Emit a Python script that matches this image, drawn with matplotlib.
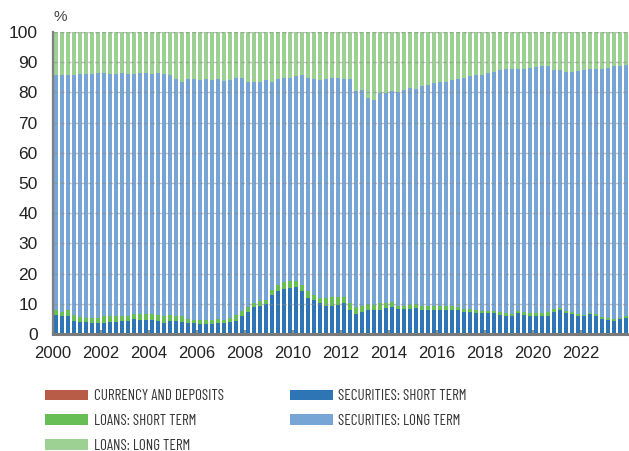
import matplotlib
matplotlib.use("Agg")
import matplotlib.pyplot as plt
from matplotlib.patches import Patch
import numpy as np

# Quarterly data 2000Q1 .. 2023Q4 (percent of total)
quarters = [2000 + q * 0.25 for q in range(96)]

currency = [0.4] * 49 + [0.1] * 47

sec_short = [6.0, 5.4, 5.4, 4.0, 3.7, 3.7, 3.4, 3.4, 3.4, 3.7, 3.7, 4.0,
             4.0, 4.6, 4.4, 4.4, 4.4, 4.0, 3.4, 4.0, 4.0, 3.7, 3.2, 3.1,
             2.8, 3.0, 3.0, 3.4, 3.1, 3.7, 4.0, 5.7, 7.0, 8.4, 8.8, 9.5,
             12.4, 13.7, 14.4, 14.8, 15.3, 13.7, 11.6, 10.9, 9.9, 9.0, 9.0, 9.1,
             9.9, 8.0, 6.5, 7.3, 7.7, 7.7, 8.0, 8.6, 9.0, 8.3, 8.3, 8.3,
             8.5, 7.8, 7.8, 8.0, 8.0, 8.0, 7.9, 7.7, 7.3, 7.2, 7.0, 6.7,
             6.7, 6.7, 6.3, 6.0, 5.8, 6.7, 6.3, 6.0, 6.0, 6.0, 6.0, 7.1,
             7.7, 7.0, 6.5, 5.8, 5.7, 6.5, 6.0, 5.0, 4.7, 4.3, 4.8, 5.3]

loans_short = [1.7, 1.5, 2.0, 1.9, 1.5, 1.3, 1.5, 1.6, 2.0, 1.8, 1.8, 1.6,
               1.7, 1.7, 1.8, 1.8, 1.8, 1.9, 2.1, 1.8, 1.7, 1.8, 1.4, 1.3,
               1.3, 1.2, 1.1, 1.2, 1.2, 1.3, 1.8, 1.5, 1.4, 1.6, 1.6, 1.5,
               1.8, 2.0, 2.4, 2.2, 1.7, 2.2, 2.3, 1.7, 1.7, 2.5, 2.7, 2.7,
               2.1, 2.3, 2.5, 2.0, 2.0, 1.9, 2.0, 1.6, 1.5, 1.0, 1.0, 1.2,
               1.2, 1.3, 1.3, 1.2, 1.2, 1.2, 1.2, 1.0, 1.0, 0.9, 1.0, 0.8,
               0.9, 0.9, 0.8, 0.8, 0.8, 0.8, 0.8, 1.0, 0.7, 0.9, 1.1, 1.2,
               0.8, 0.6, 0.6, 0.7, 0.5, 0.2, 0.5, 0.6, 0.4, 0.5, 0.4, 0.5]

sec_long = [77.5, 78.5, 77.8, 79.5, 80.6, 80.6, 80.7, 81.1, 80.7, 80.3, 80.3, 80.5,
            80.1, 79.5, 79.9, 79.9, 79.6, 80.2, 80.3, 79.6, 78.4, 77.6, 79.5, 79.7,
            79.7, 79.9, 79.7, 79.5, 79.1, 78.8, 78.6, 77.2, 74.7, 72.9, 72.7, 72.6,
            68.9, 68.4, 67.7, 67.5, 67.9, 69.3, 70.6, 71.6, 72.0, 72.4, 72.8, 72.7,
            72.2, 74.1, 71.4, 71.5, 68.2, 67.7, 69.6, 69.4, 69.7, 70.7, 71.3, 71.7,
            71.2, 72.8, 73.3, 73.7, 74.0, 74.3, 74.8, 75.5, 76.3, 77.1, 77.5, 78.3,
            78.6, 79.1, 80.1, 80.7, 81.2, 80.3, 80.7, 80.9, 81.7, 81.8, 81.7, 79.1,
            78.7, 79.2, 79.7, 80.5, 81.2, 80.8, 81.0, 82.2, 83.0, 83.7, 83.6, 83.3]

loans_long = [14.4, 14.2, 14.4, 14.2, 13.8, 14.0, 14.0, 13.5, 13.5, 13.8, 13.8, 13.5,
              13.8, 13.8, 13.5, 13.5, 13.8, 13.5, 13.8, 14.2, 15.5, 16.5, 15.5, 15.5,
              15.8, 15.5, 15.8, 15.5, 16.2, 15.8, 15.2, 15.2, 16.5, 16.7, 16.5, 16.0,
              16.5, 15.5, 15.1, 15.1, 14.7, 14.4, 15.1, 15.4, 16.0, 15.7, 15.1, 15.1,
              15.4, 15.5, 19.5, 19.1, 22.0, 22.6, 20.3, 20.3, 19.7, 19.9, 19.3, 18.7,
              19.0, 18.0, 17.5, 17.0, 16.7, 16.4, 16.0, 15.7, 15.3, 14.7, 14.4, 14.1,
              13.7, 13.2, 12.7, 12.4, 12.1, 12.1, 12.1, 12.0, 11.5, 11.2, 11.1, 12.5,
              12.7, 13.1, 13.1, 12.9, 12.5, 12.4, 12.4, 12.1, 11.8, 11.4, 11.1, 10.8]

series_names = ["CURRENCY AND DEPOSITS", "SECURITIES: SHORT TERM", "LOANS: SHORT TERM",
                "SECURITIES: LONG TERM", "LOANS: LONG TERM"]
series_colors = ["#b85c48", "#2e75b6", "#66be55", "#77a6d6", "#9dd193"]
year_ticks = [2000, 2002, 2004, 2006, 2008, 2010, 2012, 2014, 2016, 2018, 2020, 2022]
y_ticks = [0, 10, 20, 30, 40, 50, 60, 70, 80, 90, 100]

plt.rcParams['font.family'] = ['Liberation Sans', 'DejaVu Sans']

fig = plt.figure(figsize=(6.29, 4.51), dpi=100)
ax = fig.add_axes([53 / 629, 117 / 451, 576 / 629, 302 / 451])

x = np.array(quarters) + 0.125
bottom = np.zeros(len(x))
handles = {}
for name, vals, col in zip(series_names,
                           [currency, sec_short, loans_short, sec_long, loans_long],
                           series_colors):
    v = np.array(vals)
    ax.bar(x, v, width=0.19, bottom=bottom, color=col, linewidth=0, zorder=2)
    bottom += v
    handles[name] = Patch(facecolor=col, edgecolor='none', label=name)

ax.set_xlim(2000, 2024)
ax.set_ylim(0, 100)
ax.set_yticks(y_ticks)
ax.set_xticks(year_ticks)
ax.set_xticklabels([str(t) for t in year_ticks])
for yv in y_ticks[1:]:
    ax.axhline(yv, color='#8a8a8a', lw=1.0, ls=(0, (3, 2)), alpha=0.55, zorder=3)

for s in ['top', 'right']:
    ax.spines[s].set_visible(False)
ax.spines['left'].set_color('#808080')
ax.spines['left'].set_linewidth(1.6)
ax.spines['bottom'].set_color('#7a7a7a')
ax.spines['bottom'].set_linewidth(2.2)
ax.spines['bottom'].set_zorder(4)
ax.tick_params(axis='y', length=0, pad=11, labelsize=12.5, labelcolor='#222222')
ax.tick_params(axis='x', direction='in', length=3, width=1.2, color='#808080',
               pad=9, labelsize=12, labelcolor='#222222')

fig.text(53 / 629, 1 - 17 / 451, '%', fontsize=11, color='#444444', va='center', ha='left')

order = ["CURRENCY AND DEPOSITS", "LOANS: SHORT TERM", "LOANS: LONG TERM",
         "SECURITIES: SHORT TERM", "SECURITIES: LONG TERM"]
leg = fig.legend([handles[n] for n in order], order, ncol=2,
                 loc='upper left', bbox_to_anchor=(45 / 629, 1 - 389 / 451),
                 frameon=False,
                 prop={'family': ['Barlow Condensed', 'Roboto Condensed', 'DejaVu Sans'], 'size': 10.8},
                 handlelength=2.85, handleheight=0.7, handletextpad=0.4,
                 columnspacing=4.4, labelspacing=0.72, borderaxespad=0, borderpad=0)
for t in leg.get_texts():
    t.set_color('#333333')

fig.savefig('out.png', dpi=100)
